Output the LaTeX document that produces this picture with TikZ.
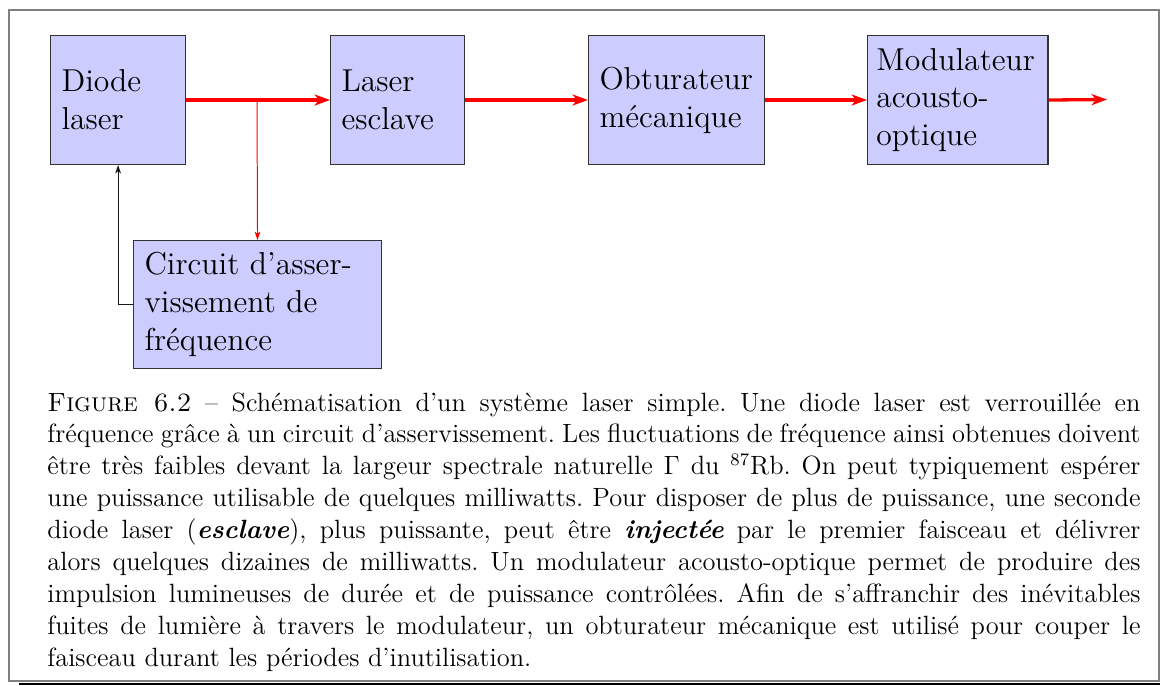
\documentclass[tikz,border=0pt]{standalone}
\usepackage{fontspec}
\usetikzlibrary{arrows.meta}
\frenchspacing
\begin{document}
\begin{tikzpicture}[x=0.4545pt,y=-0.4545pt,
  box/.style={draw=black!80, line width=0.5pt, fill=blue!20, anchor=north west,
    minimum height=58.6pt, inner xsep=5pt, inner ysep=0pt, align=left,
    font=\fontsize{14.4}{17.2}\selectfont},
  beam/.style={draw=red, line width=1.5pt, -{Stealth[length=7pt,width=5pt,inset=2pt]}},
  tapline/.style={draw=red, line width=0.45pt, -{Stealth[length=3.8pt,width=2.6pt,inset=1pt]}},
  loopline/.style={draw=black!90, line width=0.45pt, -{Stealth[length=3.8pt,width=2.6pt,inset=1pt]}},
  captext/.style={anchor=base west, inner sep=0pt, text width=496.8pt, align=justify,
    font=\fontsize{12}{14.5}\selectfont\frenchspacing}]
\useasboundingbox (0,0) rectangle (1160,685);
% frame and shadow
\fill[black] (19,682.5) rectangle (1160,685);
\draw[black!50, line width=0.7pt] (9,10) rectangle (1159,681);
% boxes
\node[box, text width=51.4pt] (d) at (50,35) {Diode\\laser};
\node[box, text width=50.9pt] (l) at (330,35) {Laser\\esclave};
\node[box, text width=70pt] (o) at (588,35) {Obturateur\\mécanique};
\node[box, text width=74pt, inner xsep=4pt] (m) at (867,35) {Modulateur\\acousto-\\optique};
\node[box, text width=102.7pt, minimum height=58.2pt] (c) at (133,240) {Circuit d'asser-\\vissement de\\fréquence};
\coordinate (out) at (1107,99.5);
\coordinate (t) at (257,99.5);
% connectors
\draw[tapline] (t) -- (c.north);
\draw[beam] (d) -- (l);
\draw[beam] (l) -- (o);
\draw[beam] (o) -- (m);
\draw[beam] (m.east) -- (out);
\draw[loopline] (c.west) -| (d.south);
% caption
\node[captext] (cp) at (47,411) {\textsc{Figure 6.2} -- Schématisation d'un système laser simple. Une diode laser est verrouillée en\linebreak
fréquence grâce à un circuit d'asservissement. Les fluctuations de fréquence ainsi obtenues doivent\linebreak
être très faibles devant la largeur spectrale naturelle $\Gamma$ du $^{87}$Rb. On peut typiquement espérer\linebreak
une puissance utilisable de quelques milliwatts. Pour disposer de plus de puissance, une seconde\linebreak
diode laser (\textbf{\textit{esclave}}), plus puissante, peut être \textbf{\textit{injectée}} par le premier faisceau et délivrer\linebreak
alors quelques dizaines de milliwatts. Un modulateur acousto-optique permet de produire des\linebreak
impulsion lumineuses de durée et de puissance contrôlées. Afin de s'affranchir des inévitables\linebreak
fuites de lumière à travers le modulateur, un obturateur mécanique est utilisé pour couper le\linebreak
faisceau durant les périodes d'inutilisation.};
\end{tikzpicture}
\end{document}
